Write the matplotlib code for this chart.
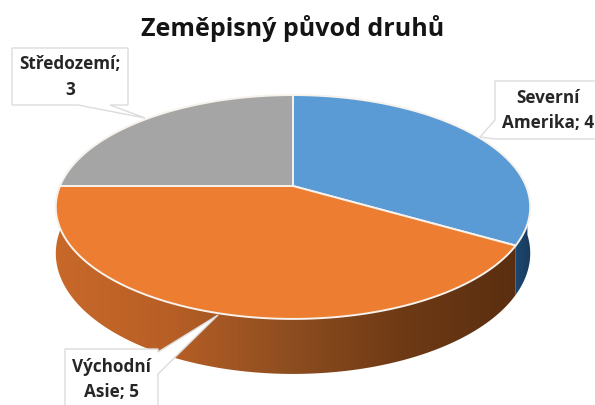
import numpy as np
import matplotlib
matplotlib.use("Agg")
import matplotlib.pyplot as plt
from matplotlib.colors import LinearSegmentedColormap
from matplotlib.patches import Polygon

regions = ["Severní\nAmerika; 4", "Východní\nAsie; 5", "Středozemí;\n3"]
counts = [4, 5, 3]
top_colors = ["#5B9BD5", "#ED7D31", "#A5A5A5"]

plt.rcParams["font.family"] = ["Open Sans", "DejaVu Sans"]

# pie centre and perspective of the tilted disc, in image pixels
cx, cy = 293, 186
rx, ry, k = 233, 108, 0.1875
depth = 44.7


def project(theta, drop=0.0):
    # theta runs clockwise from 12 o'clock
    u, v = np.sin(theta), np.cos(theta)
    w = 1 + k * v
    return cx + rx * u / w, cy - ry * v / w + drop / w


fig = plt.figure(figsize=(5.95, 4.05), dpi=100)
ax = fig.add_axes([0, 0, 1, 1])
ax.set_xlim(0, 595)
ax.set_ylim(405, 0)
ax.axis("off")

edges = np.radians(np.concatenate([[0], np.cumsum(counts)]) * 360 / sum(counts))


def side_polygon(a, b):
    t = np.linspace(a, b, 120)
    x1, y1 = project(t)
    x2, y2 = project(t[::-1], depth)
    return np.column_stack([np.r_[x1, x2], np.r_[y1, y2]])


# outer wall: only the part facing the viewer
orange_wall = LinearSegmentedColormap.from_list(
    "wall", ["#C9692A", "#B85F26", "#8F4E20", "#6E3A15", "#5A2E10"])
blue_wall = LinearSegmentedColormap.from_list("wall2", ["#1F4E79", "#17395A"])

walls = [(edges[1], edges[2], orange_wall, 50, 520),
         (np.radians(92), edges[1], blue_wall, 510, 532)]
for a, b, cmap, x0, x1 in walls:
    poly = Polygon(side_polygon(a, b), closed=True, transform=ax.transData,
                   facecolor="none", edgecolor="none")
    ax.add_patch(poly)
    im = ax.imshow(np.linspace(0, 1, 256)[None, :], cmap=cmap, aspect="auto",
                   extent=[x0, x1, 400, 80], zorder=1)
    im.set_clip_path(poly)
ax.set_xlim(0, 595)
ax.set_ylim(405, 0)

# top face
for i, c in enumerate(top_colors):
    t = np.linspace(edges[i], edges[i + 1], 150)
    x, y = project(t)
    ax.fill(np.r_[cx, x], np.r_[cy, y], facecolor=c, edgecolor="#F7F2EC",
            linewidth=1.4, zorder=2, joinstyle="round")

# callouts, same order as regions
box_edge = "#DCDCDC"
callouts = [
    ([(495, 81), (600, 81), (600, 139), (495, 139), (480, 137), (495, 120)], 548, [98, 123]),
    ([(65, 349), (158, 349), (158, 352), (218, 315), (158, 374), (158, 410), (65, 410)], 112, [367, 392]),
    ([(12, 48), (128, 48), (128, 105), (110, 105), (145, 118), (78, 105), (12, 105)], 70, [64, 90]),
]
for (verts, tx, tys), label in zip(callouts, regions):
    ax.add_patch(Polygon(verts, closed=True, facecolor="white", edgecolor=box_edge,
                         linewidth=1, zorder=3))
    for line, ty in zip(label.split("\n"), tys):
        ax.text(tx, ty, line, ha="center", va="center", fontsize=12.3,
                fontweight="bold", color="#262626", zorder=4)

ax.text(293, 28, "Zeměpisný původ druhů", ha="center", va="center",
        fontsize=18, fontweight="bold", color="#141414")

fig.savefig("out.png", dpi=100)
